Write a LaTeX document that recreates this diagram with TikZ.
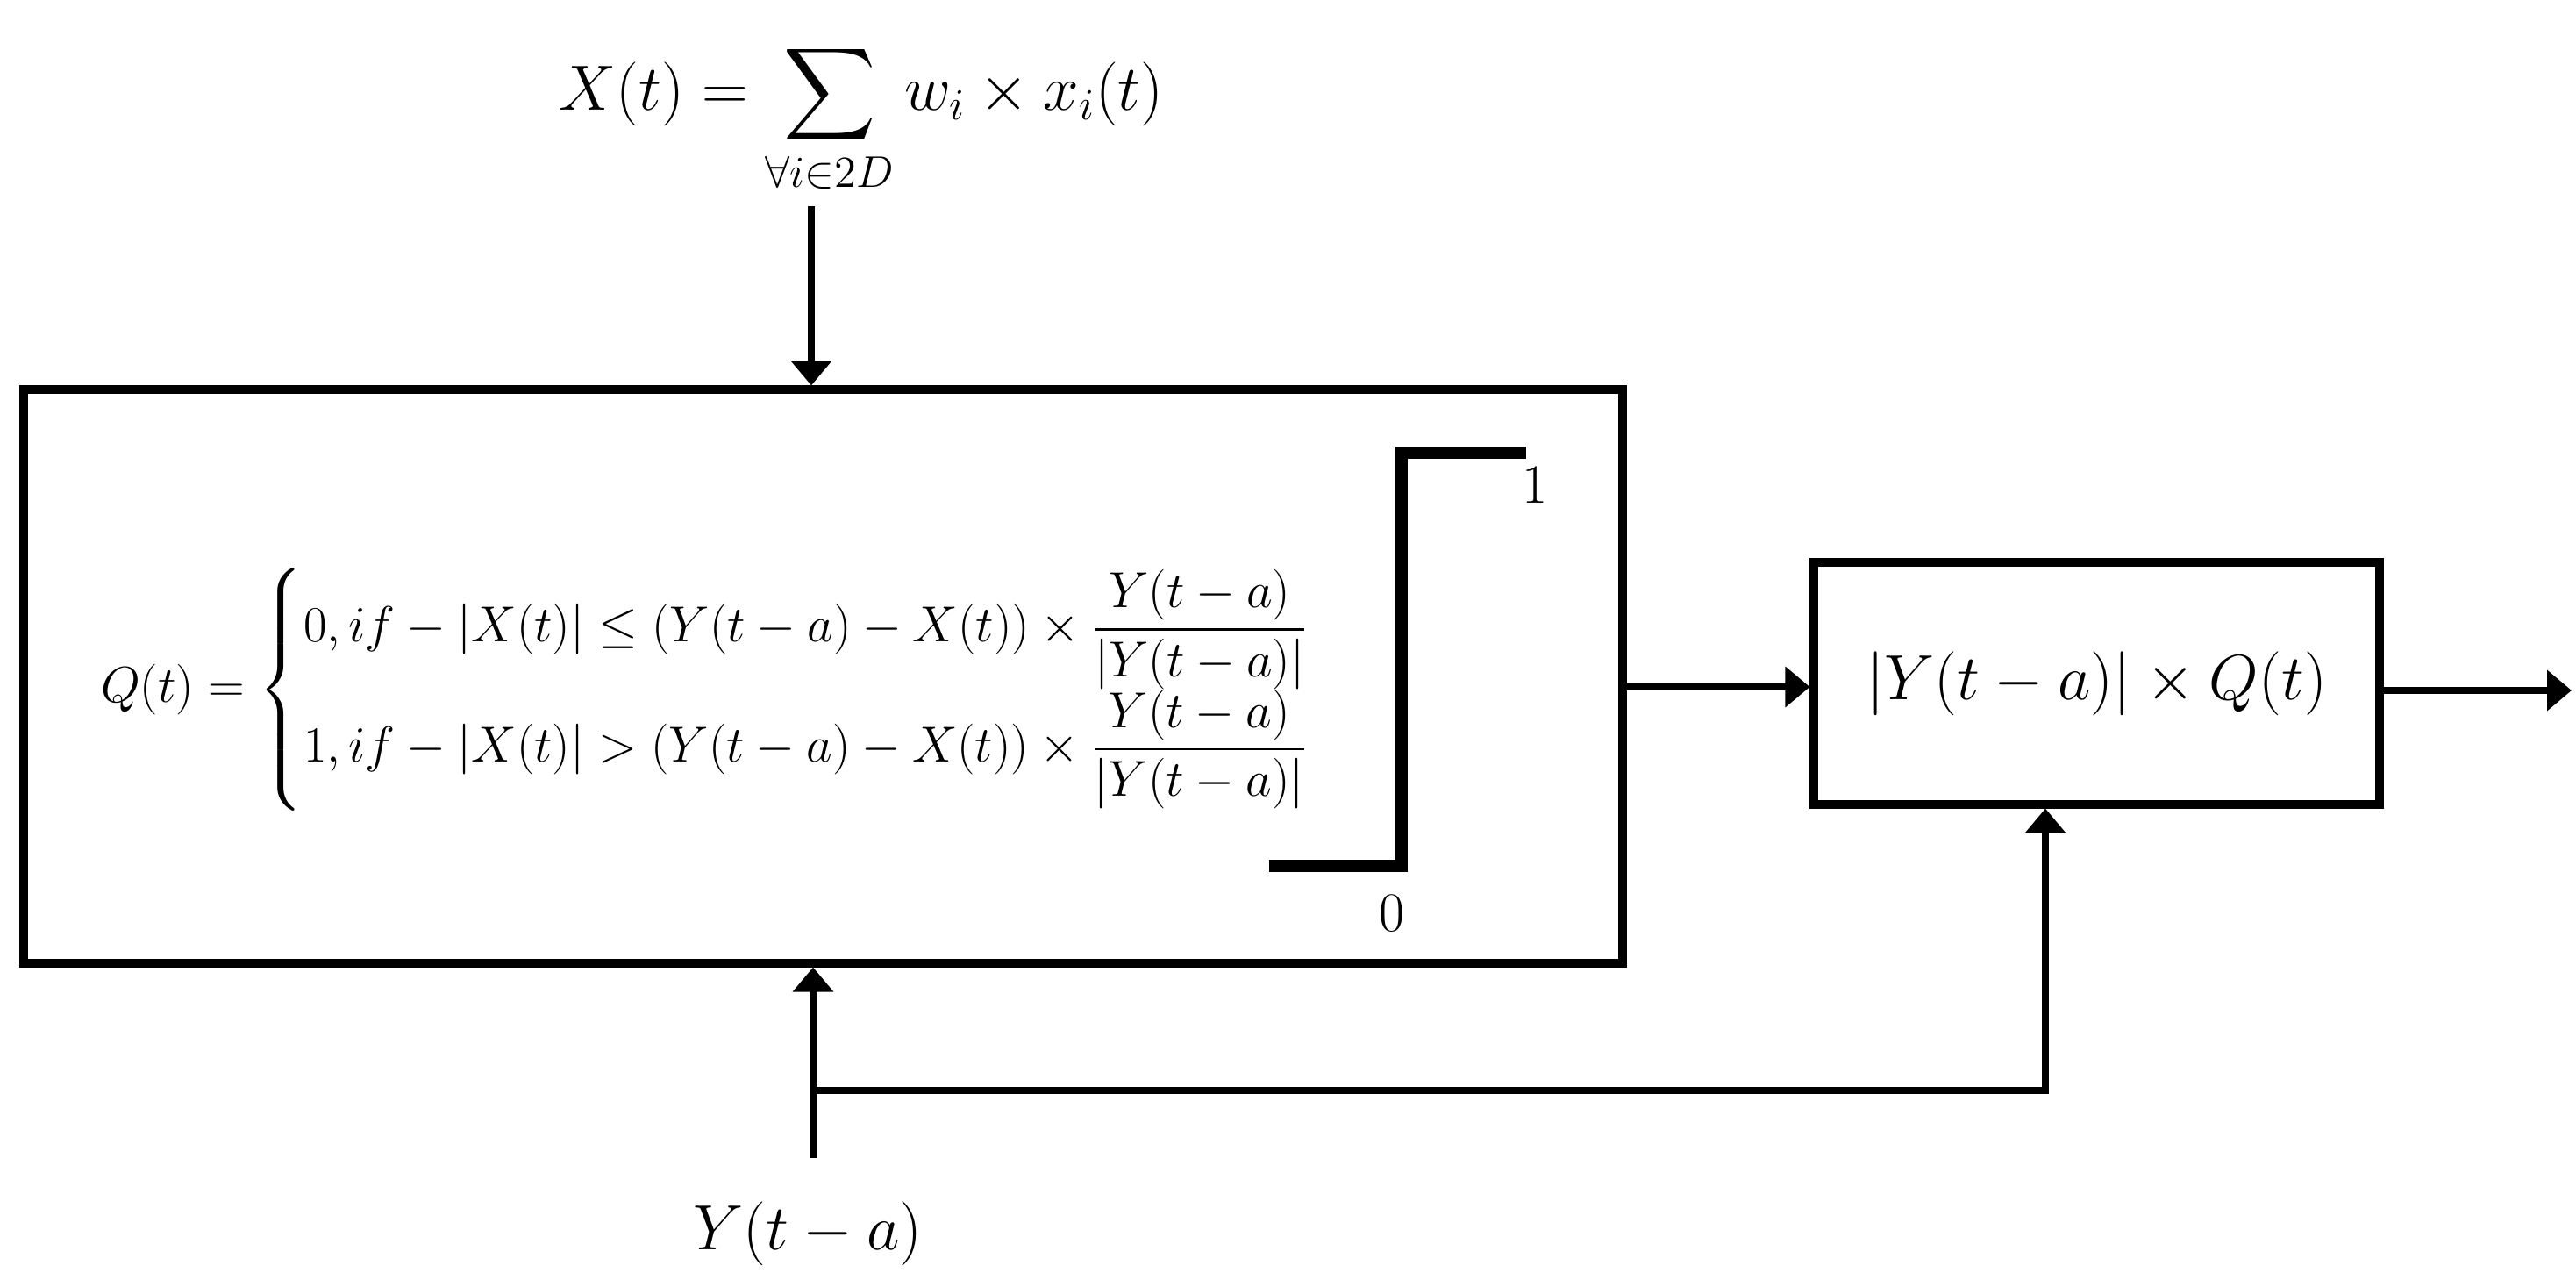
\documentclass[tikz,border=0pt]{standalone}
\usepackage{amsmath}
\usetikzlibrary{arrows.meta, positioning}

\tikzset{
  blockbox/.style={draw=black, line width=2.6pt, inner sep=0pt},
  sigline/.style={line width=2.4pt, -{Triangle[width=0.45cm,length=0.28cm]}},
  stepline/.style={line width=3.8pt},
  eqtext/.style={inner sep=0pt, font=\fontsize{20}{24}\selectfont},
}

\begin{document}
\begin{tikzpicture}
\useasboundingbox (0,0) rectangle (29.37,14.58);

% blocks
\node[blockbox, minimum width=18.23cm, minimum height=6.54cm] (qbox) at (9.385,6.87) {};
\node[blockbox, minimum width=6.45cm, minimum height=2.76cm] (mulbox) at (23.905,6.79) {};

% formulas
\node[inner sep=0pt, font=\fontsize{21}{25}\selectfont] (xsum) at (9.82,13.22)
  {$\displaystyle X(t) = \sum_{\forall i \in 2D} w_i \times x_i(t)$};
\node[inner sep=0pt, font=\fontsize{16}{19}\selectfont, scale=0.95, transform shape] (qdef) at (8.32,6.72)
  {$Q(t) = \begin{cases}
     0, if - |X(t)| \le (Y(t-a) - X(t)) \times \dfrac{Y(t-a)}{|Y(t-a)|}\\[7pt]
     1, if - |X(t)| > (Y(t-a) - X(t)) \times \dfrac{Y(t-a)}{|Y(t-a)|}
   \end{cases}$};
\node[eqtext] (mullab) at (mulbox.center) {$|Y(t-a)| \times Q(t)$};
\node[eqtext] (ylab) at (9.21,0.52) {$Y(t-a)$};

% step
\draw[stepline] (14.47,4.71) -- (15.98,4.71) -- (15.98,9.42) -- (17.40,9.42);
\node[font=\fontsize{18}{21}\selectfont, inner sep=0pt] (one) at (17.50,9.05) {1};
\node[font=\fontsize{18}{21}\selectfont, inner sep=0pt] (zero) at (15.87,4.17) {0};

% signals
\coordinate (xin) at (9.25,12.23);
\coordinate (yin) at (9.27,1.38);
\coordinate (ysplit) at (9.27,2.15);
\coordinate (mulin) at (23.32,2.15);
\coordinate (qout) at (18.50,6.75);
\coordinate (yout) at (29.32,6.71);

\draw[sigline] (xin) -- (xin |- qbox.north);
\draw[sigline] (yin) -- (yin |- qbox.south);
\draw[sigline] (ysplit) -- (mulin) -- (mulin |- mulbox.south);
\draw[sigline] (qout) -- (qout -| mulbox.west);
\draw[sigline] (yout -| mulbox.east) -- (yout);

\end{tikzpicture}
\end{document}
